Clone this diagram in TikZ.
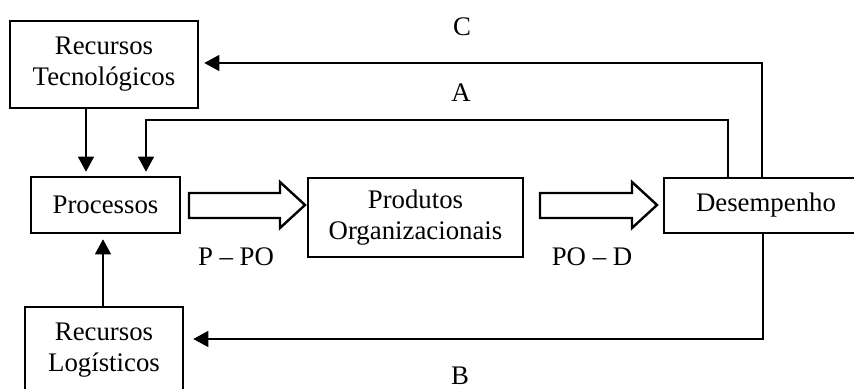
\documentclass[tikz,border=0pt]{standalone}
\usepackage{fontspec}
\setmainfont{Liberation Serif}
\usetikzlibrary{arrows.meta}

\begin{document}
\begin{tikzpicture}[x=0.5pt,y=0.5pt,yscale=-1,xscale=1,
    box/.style={draw,line width=1.3pt,align=center,inner sep=0pt,font=\fontsize{13.4}{15.5}\selectfont},
    link/.style={line width=0.6pt,-{Triangle[length=7.5pt,width=8pt]},shorten >=2pt},
    blk/.style={line width=1.2pt,line join=miter},
    lbl/.style={inner sep=0pt,font=\fontsize{13.4}{15.5}\selectfont}]
        \useasboundingbox (0,0) rectangle (854,389);
        \clip (0,0) rectangle (854,389);

        % Boxes
        \node[box,minimum width=94pt,minimum height=43.5pt] (tec) at (104,64.5) {Recursos\\Tecnológicos};
        \node[box,minimum width=74.5pt,minimum height=28pt] (proc) at (105.5,205) {Processos};
        \node[box,minimum width=107.5pt,minimum height=39.5pt] (prod) at (415.5,217.5) {Produtos\\Organizacionais};
        \node[box,minimum width=102pt,minimum height=27.5pt] (des) at (766,205.5) {Desempenho};
        \node[box,minimum width=79pt,minimum height=43.5pt] (log) at (104,350.5) {Recursos\\Logísticos};

        % Block arrows
        \draw[blk] (189,193) -- (280,193) -- (280,182) -- (305,205) -- (280,228) -- (280,218) -- (189,218) -- cycle ;
        \draw[blk] (540,193) -- (632,193) -- (632,182) -- (657,205) -- (632,228) -- (632,218) -- (540,218) -- cycle ;

        % Resources into processes
        \draw[link] ([xshift=-9pt]tec.south) -- ([xshift=-9pt]tec.south |- proc.north);
        \draw[link,shorten >=2.5pt] ([xshift=-0.5pt]log.north) -- ([xshift=-0.5pt]log.north |- proc.south);

        % Feedback A
        \coordinate (a1) at (146,120);
        \draw[link] ([xshift=-19pt]des.north) |- (a1) -- (a1 |- proc.north);
        % Feedback C
        \coordinate (c1) at (762,63);
        \draw[link,shorten >=2.5pt] (c1 |- des.north) -- (c1) -- (c1 -| tec.east);
        % Feedback B
        \coordinate (b1) at (763,339);
        \draw[link,shorten >=4.5pt] (b1 |- des.south) -- (b1) -- (b1 -| log.east);

        % Text Node
        \node[lbl] (lc) at (462,27) {C};
        \node[lbl] (la) at (461,93) {A};
        \node[lbl] (lb) at (460,376) {B};
        \node[lbl] (lpp) at (236,257) {P – PO};
        \node[lbl] (lpd) at (592,257) {PO – D};
\end{tikzpicture}
\end{document}
